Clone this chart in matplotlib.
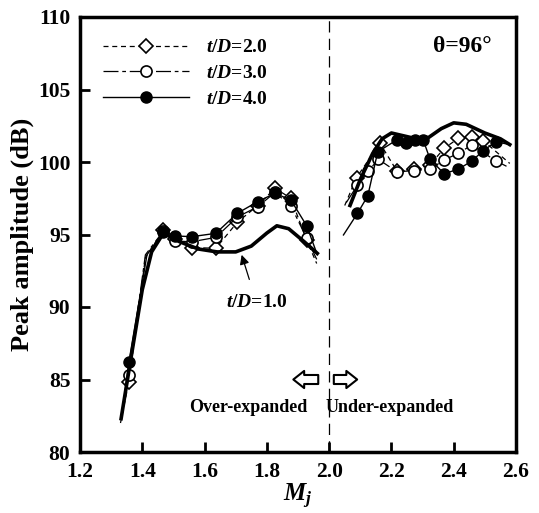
import matplotlib
matplotlib.use("Agg")
import matplotlib.pyplot as plt

plt.rcParams['font.family'] = ['Liberation Serif', 'DejaVu Serif']
plt.rcParams['font.weight'] = 'bold'
plt.rcParams['mathtext.fontset'] = 'custom'
plt.rcParams['mathtext.rm'] = 'Liberation Serif:bold'
plt.rcParams['mathtext.it'] = 'Liberation Serif:italic:bold'
plt.rcParams['mathtext.bf'] = 'Liberation Serif:bold'

# ---------------- data ----------------
# Each curve: line vertices; the *_mk lists give which vertices carry a measured-point marker.
# t/D = 2.0 (open diamonds, dashed)
td2_over_M  = [1.330, 1.357, 1.410, 1.468, 1.505, 1.559, 1.636, 1.705, 1.771, 1.826, 1.877, 1.928, 1.960]
td2_over_dB = [82.0, 84.85, 93.4, 95.30, 94.70, 94.10, 94.05, 95.84, 97.00, 98.19, 97.50, 94.60, 93.0]
td2_over_mk = [1, 3, 4, 5, 6, 7, 8, 9, 10, 11]
td2_under_M  = [2.050, 2.088, 2.163, 2.217, 2.274, 2.324, 2.369, 2.415, 2.458, 2.495, 2.580]
td2_under_dB = [97.0, 98.92, 101.30, 99.40, 99.50, 99.80, 100.94, 101.63, 101.75, 101.47, 99.9]
td2_under_mk = [1, 2, 3, 4, 5, 6, 7, 8, 9]

# t/D = 3.0 (open circles, dash-dot)
td3_over_M  = [1.332, 1.357, 1.410, 1.468, 1.505, 1.559, 1.636, 1.705, 1.771, 1.826, 1.877, 1.928, 1.962]
td3_over_dB = [82.2, 85.30, 93.6, 95.25, 94.55, 94.50, 94.80, 96.20, 96.92, 97.90, 96.98, 94.74, 93.2]
td3_over_mk = [1, 3, 4, 5, 6, 7, 8, 9, 10, 11]
td3_under_M  = [2.055, 2.091, 2.126, 2.158, 2.217, 2.274, 2.324, 2.369, 2.415, 2.458, 2.536, 2.570]
td3_under_dB = [97.2, 98.40, 99.38, 100.19, 99.33, 99.40, 99.50, 100.14, 100.60, 101.17, 100.07, 99.7]
td3_under_mk = [1, 2, 3, 4, 5, 6, 7, 8, 9, 10]

# t/D = 4.0 (filled circles, solid)
td4_over_M  = [1.334, 1.357, 1.415, 1.468, 1.505, 1.559, 1.636, 1.705, 1.771, 1.826, 1.877, 1.928, 1.962]
td4_over_dB = [82.4, 86.20, 93.6, 95.20, 94.90, 94.85, 95.08, 96.46, 97.27, 97.84, 97.38, 95.60, 93.6]
td4_over_mk = [1, 3, 4, 5, 6, 7, 8, 9, 10, 11]
td4_under_M  = [2.046, 2.091, 2.124, 2.156, 2.217, 2.247, 2.276, 2.302, 2.324, 2.369, 2.415, 2.458, 2.495, 2.536, 2.580]
td4_under_dB = [94.97, 96.46, 97.66, 100.70, 101.52, 101.33, 101.52, 101.52, 100.19, 99.20, 99.50, 100.07, 100.78, 101.40, 101.2]
td4_under_mk = list(range(1, 14))

# t/D = 1.0 (thick line, no markers)
td1_over_M  = [1.332, 1.360, 1.400, 1.430, 1.468, 1.520, 1.580, 1.640, 1.700, 1.750, 1.800, 1.832, 1.870, 1.920, 1.962]
td1_over_dB = [82.3, 86.0, 91.2, 93.8, 95.1, 94.5, 94.0, 93.8, 93.8, 94.2, 95.1, 95.6, 95.4, 94.5, 93.7]
td1_under_M  = [2.067, 2.100, 2.140, 2.170, 2.200, 2.240, 2.280, 2.320, 2.360, 2.400, 2.440, 2.500, 2.550, 2.580]
td1_under_dB = [97.0, 98.8, 100.6, 101.6, 102.0, 101.8, 101.6, 101.7, 102.3, 102.7, 102.6, 102.0, 101.6, 101.2]

x_ticks = [1.2, 1.4, 1.6, 1.8, 2.0, 2.2, 2.4, 2.6]
y_ticks = [80, 85, 90, 95, 100, 105, 110]
labels = [r'$t/D$=2.0', r'$t/D$=3.0', r'$t/D$=4.0']

# ---------------- figure ----------------
fig = plt.figure(figsize=(5.39, 5.13), dpi=100)
ax = fig.add_axes([80/539, 1-452/513, 436/539, 435/513])

ls2 = (0, (4, 3))
ls3 = (0, (12, 3, 3, 3))
ms_c = 8.0
ms_d = 6.8

ax.plot(td2_over_M, td2_over_dB, color='black', lw=0.9, ls=ls2, marker='D', ms=ms_d,
        mfc='white', mec='black', mew=1.2, markevery=td2_over_mk, label=labels[0])
ax.plot(td2_under_M, td2_under_dB, color='black', lw=0.9, ls=ls2, marker='D', ms=ms_d,
        mfc='white', mec='black', mew=1.2, markevery=td2_under_mk)
ax.plot(td3_over_M, td3_over_dB, color='black', lw=0.9, ls=ls3, marker='o', ms=ms_c,
        mfc='white', mec='black', mew=1.2, markevery=td3_over_mk, label=labels[1])
ax.plot(td3_under_M, td3_under_dB, color='black', lw=0.9, ls=ls3, marker='o', ms=ms_c,
        mfc='white', mec='black', mew=1.2, markevery=td3_under_mk)
ax.plot(td4_over_M, td4_over_dB, color='black', lw=1.0, ls='-', marker='o', ms=ms_c,
        mfc='black', mec='black', markevery=td4_over_mk, label=labels[2])
ax.plot(td4_under_M, td4_under_dB, color='black', lw=1.0, ls='-', marker='o', ms=ms_c,
        mfc='black', mec='black', markevery=td4_under_mk)
ax.plot(td1_over_M, td1_over_dB, color='black', lw=2.6, solid_joinstyle='round')
ax.plot(td1_under_M, td1_under_dB, color='black', lw=2.6, solid_joinstyle='round')

ax.axvline(2.0, color='black', lw=0.9, ls=(0, (9, 5)))

ax.set_xlim(1.2, 2.6)
ax.set_ylim(80, 110)
ax.set_xticks(x_ticks)
ax.set_xticklabels([f'{v:.1f}' for v in x_ticks])
ax.set_yticks(y_ticks)
ax.tick_params(direction='in', length=7, width=2, labelsize=15.5, top=False, right=False, pad=7)
for s in ax.spines.values():
    s.set_linewidth(2.5)

ax.set_ylabel('Peak amplitude (dB)', fontsize=19, fontweight='bold', labelpad=3)
ax.set_xlabel(r'$M_j$', fontsize=18, labelpad=0)

leg = ax.legend(loc='upper left', bbox_to_anchor=(0.053, 0.950), frameon=False,
                fontsize=14, handlelength=4.4, handletextpad=0.9, labelspacing=0.42,
                borderpad=0, borderaxespad=0, numpoints=1)

ax.text(2.523, 108.0, 'θ=96°', fontsize=17, fontweight='bold', ha='right', va='center')

ax.annotate(r'$t/D$=1.0', xy=(1.719, 93.6), xytext=(1.767, 90.3), fontsize=14,
            ha='center', va='center',
            arrowprops=dict(arrowstyle='-|>', color='black', lw=0.9,
                            mutation_scale=14, shrinkA=9, shrinkB=0))

arrow_style = 'simple,head_length=0.6,head_width=0.95,tail_width=0.5'
ax.annotate('', xy=(1.885, 85.0), xytext=(1.965, 85.0),
            arrowprops=dict(arrowstyle=arrow_style, fc='white', ec='black', lw=1.5,
                            mutation_scale=13, shrinkA=0, shrinkB=0))
ax.annotate('', xy=(2.09, 85.0), xytext=(2.015, 85.0),
            arrowprops=dict(arrowstyle=arrow_style, fc='white', ec='black', lw=1.5,
                            mutation_scale=13, shrinkA=0, shrinkB=0))

ax.text(1.74, 83.1, 'Over-expanded', fontsize=13, fontweight='bold', ha='center', va='center')
ax.text(2.193, 83.1, 'Under-expanded', fontsize=13, fontweight='bold', ha='center', va='center')

fig.savefig('out.png', dpi=100)
